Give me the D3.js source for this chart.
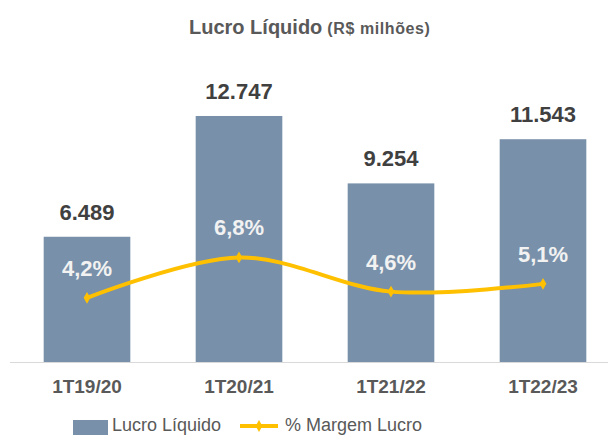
<!DOCTYPE html>
<html>
<head>
<meta charset="utf-8">
<script src="https://cdn.jsdelivr.net/npm/d3@7"></script>
<style>
  body { margin: 0; background: #fff; }
  text { font-family: "Liberation Sans", Arial, sans-serif; }
</style>
</head>
<body>
<div id="chart"></div>
<script>
// chart data
const periods = ["1T19/20", "1T20/21", "1T21/22", "1T22/23"];
const lucro = [6489, 12747, 9254, 11543];
const margem = [4.2, 6.8, 4.6, 5.1];
const lucroLabels = ["6.489", "12.747", "9.254", "11.543"];
const margemLabels = ["4,2%", "6,8%", "4,6%", "5,1%"];

function init() {
    let w = 608;
    let h = 435;
    const barColor = "#7890a9";
    const lineColor = "#ffc000";
    const grey = "#595959";

    let svg = d3.select("#chart")
        .append("svg")
        .attr("width", w)
        .attr("height", h);

    // x band: centers ~87 .. 543, bar width ~87
    let x = d3.scaleBand()
        .domain(periods)
        .range([11, 619])
        .paddingInner(0.43)
        .paddingOuter(0.215);

    let y = d3.scaleLinear().domain([0, 14000]).range([362, 91.8]);
    let y2 = d3.scaleLinear().domain([0, 17.4]).range([363, 93]);

    // title
    let title = svg.append("text")
        .attr("x", 189)
        .attr("y", 34)
        .attr("fill", grey)
        .style("font-weight", "bold");
    title.append("tspan").style("font-size", "20px").text("Lucro Líquido");
    title.append("tspan").attr("dx", 5)
        .style("font-size", "16px")
        .style("letter-spacing", "0.6px")
        .text("(R$ milhões)");

    // bars
    svg.selectAll(".bar")
        .data(lucro)
        .enter()
        .append("rect")
        .attr("class", "bar")
        .attr("x", (d, i) => x(periods[i]))
        .attr("width", x.bandwidth())
        .attr("y", d => y(d))
        .attr("height", d => y(0) - y(d))
        .attr("fill", barColor);

    // axis line
    svg.append("line")
        .attr("x1", 10).attr("x2", 608)
        .attr("y1", 362.5).attr("y2", 362.5)
        .attr("stroke", "#d9d9d9")
        .attr("stroke-width", 1);

    // category labels
    svg.selectAll(".cat")
        .data(periods)
        .enter()
        .append("text")
        .attr("class", "cat")
        .attr("x", d => x(d) + x.bandwidth() / 2)
        .attr("y", 393)
        .attr("text-anchor", "middle")
        .attr("fill", grey)
        .style("font-size", "19px")
        .style("font-weight", "bold")
        .text(d => d);

    // value labels
    svg.selectAll(".val")
        .data(lucro)
        .enter()
        .append("text")
        .attr("class", "val")
        .attr("x", (d, i) => x(periods[i]) + x.bandwidth() / 2)
        .attr("y", d => y(d) - 17)
        .attr("text-anchor", "middle")
        .attr("fill", "#404040")
        .style("font-size", "22px")
        .style("font-weight", "bold")
        .text((d, i) => lucroLabels[i]);

    // margin line
    let line = d3.line()
        .x((d, i) => x(periods[i]) + x.bandwidth() / 2)
        .y(d => y2(d))
        .curve(d3.curveCardinal.tension(0));

    svg.append("path")
        .datum(margem)
        .attr("d", line)
        .attr("fill", "none")
        .attr("stroke", lineColor)
        .attr("stroke-width", 4)
        .attr("stroke-linecap", "round");

    svg.selectAll(".mk")
        .data(margem)
        .enter()
        .append("path")
        .attr("class", "mk")
        .attr("d", d3.symbol(d3.symbolDiamond, 40))
        .attr("transform", (d, i) => "translate(" + (x(periods[i]) + x.bandwidth() / 2) + "," + y2(d) + ")")
        .attr("fill", lineColor);

    // margin labels
    svg.selectAll(".pct")
        .data(margem)
        .enter()
        .append("text")
        .attr("class", "pct")
        .attr("x", (d, i) => x(periods[i]) + x.bandwidth() / 2)
        .attr("y", d => y2(d) - 22)
        .attr("text-anchor", "middle")
        .attr("fill", "#f2f2f2")
        .style("font-size", "22px")
        .style("font-weight", "bold")
        .text((d, i) => margemLabels[i]);

    // legend (bottom edge, slightly clipped like the original)
    let lg = svg.append("g");
    lg.append("rect")
        .attr("x", 73).attr("y", 420)
        .attr("width", 35).attr("height", 15)
        .attr("fill", barColor);
    lg.append("text")
        .attr("x", 112).attr("y", 431)
        .attr("fill", grey)
        .style("font-size", "18px")
        .text("Lucro Líquido");
    lg.append("line")
        .attr("x1", 240).attr("x2", 278)
        .attr("y1", 426).attr("y2", 426)
        .attr("stroke", lineColor)
        .attr("stroke-width", 4);
    lg.append("path")
        .attr("d", d3.symbol(d3.symbolDiamond, 40))
        .attr("transform", "translate(259,426)")
        .attr("fill", lineColor);
    lg.append("text")
        .attr("x", 285).attr("y", 431)
        .attr("fill", grey)
        .style("font-size", "18px")
        .text("% Margem Lucro");
}

window.addEventListener('load', init);
</script>
</body>
</html>
